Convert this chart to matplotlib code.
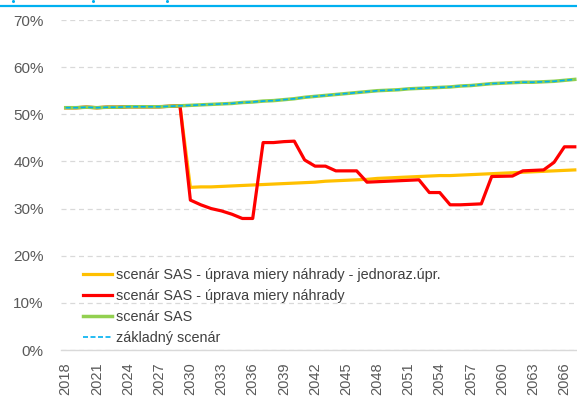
import matplotlib
matplotlib.use("Agg")
import matplotlib.pyplot as plt
from matplotlib.lines import Line2D
from matplotlib.ticker import FuncFormatter, MultipleLocator

years = list(range(2018, 2068))

sas = [51.4, 51.4, 51.5, 51.4, 51.5, 51.5, 51.6, 51.6, 51.6, 51.6, 51.7, 51.8,
       51.9, 52.0, 52.1, 52.2, 52.3, 52.5, 52.6, 52.8, 52.9, 53.1, 53.3, 53.6,
       53.8, 54.0, 54.2, 54.4, 54.6, 54.8, 55.0, 55.1, 55.2, 55.4, 55.5, 55.6,
       55.7, 55.8, 56.0, 56.1, 56.3, 56.5, 56.6, 56.7, 56.8, 56.8, 56.9, 57.0,
       57.2, 57.4]

zakladny = [51.4, 51.4, 51.5, 51.4, 51.5, 51.5, 51.6, 51.6, 51.6, 51.6, 51.7, 51.8,
            51.9, 52.0, 52.1, 52.2, 52.3, 52.5, 52.6, 52.8, 52.9, 53.1, 53.3, 53.6,
            53.8, 54.0, 54.2, 54.4, 54.6, 54.8, 55.0, 55.1, 55.2, 55.4, 55.5, 55.6,
            55.7, 55.8, 56.0, 56.1, 56.3, 56.5, 56.6, 56.7, 56.8, 56.8, 56.9, 57.0,
            57.2, 57.4]

uprava = [51.4, 51.4, 51.5, 51.4, 51.5, 51.5, 51.6, 51.6, 51.6, 51.6, 51.7, 51.8,
          31.8, 30.8, 30.0, 29.5, 28.8, 27.9, 27.9, 44.0, 44.0, 44.2, 44.3, 40.3,
          39.0, 39.0, 38.0, 38.0, 38.0, 35.6, 35.7, 35.8, 35.9, 36.0, 36.1, 33.4,
          33.4, 30.8, 30.8, 30.9, 31.0, 36.8, 36.85, 36.9, 38.0, 38.1, 38.2, 39.8,
          43.1, 43.1]

jednoraz = [51.4, 51.4, 51.5, 51.4, 51.5, 51.5, 51.6, 51.6, 51.6, 51.6, 51.7, 51.8,
            34.5, 34.6, 34.6, 34.7, 34.8, 34.9, 35.0, 35.1, 35.2, 35.3, 35.4, 35.5,
            35.6, 35.8, 35.9, 36.0, 36.1, 36.2, 36.4, 36.5, 36.6, 36.7, 36.8, 36.9,
            37.0, 37.0, 37.1, 37.2, 37.3, 37.4, 37.5, 37.6, 37.7, 37.8, 37.9, 38.0,
            38.1, 38.2]

labels = ["scenár SAS - úprava miery náhrady - jednoraz.úpr.",
          "scenár SAS - úprava miery náhrady",
          "scenár SAS",
          "základný scenár"]

plt.rcParams['font.family'] = ['Liberation Sans', 'DejaVu Sans']
txt = '#595959'

fig = plt.figure(figsize=(5.77, 4.0), dpi=100)
ax = fig.add_axes([60.5 / 577, 50 / 400, 519.5 / 577, 330 / 400])

ax.plot(years, jednoraz, color='#FFC000', lw=2.3, label=labels[0], zorder=3)
ax.plot(years, uprava, color='#FF0000', lw=2.3, label=labels[1], zorder=4)
ax.plot(years, sas, color='#92D050', lw=2.5, label=labels[2], zorder=5)
ax.plot(years, zakladny, color='#00B0F0', lw=1.2, ls=(0, (3, 1.5)), label=labels[3], zorder=6)

ax.set_xlim(2017.5, 2067.5)
ax.set_ylim(0, 70)
ax.yaxis.set_major_locator(MultipleLocator(10))
ax.yaxis.set_major_formatter(FuncFormatter(lambda v, p: f"{int(round(v))}%"))
ax.set_xticks(years[::3])
ax.set_xticklabels([str(y) for y in years[::3]], rotation=90)

ax.grid(axis='y', color='#D9D9D9', ls=(0, (4, 3)), lw=0.9)
ax.set_axisbelow(True)
for s in ['top', 'right', 'left']:
    ax.spines[s].set_visible(False)
ax.spines['bottom'].set_color('#D9D9D9')
ax.spines['bottom'].set_linewidth(1.0)
ax.tick_params(axis='both', length=0, colors=txt, labelsize=11)
ax.tick_params(axis='y', pad=12)
ax.tick_params(axis='x', pad=9, labelsize=10.5)

leg = ax.legend(loc='lower left', bbox_to_anchor=(0.027, -0.012), frameon=False,
                fontsize=10.4, handlelength=2.0, handletextpad=0.3,
                labelspacing=0.5, borderaxespad=0.2)
for t in leg.get_texts():
    t.set_color('#404040')

fig.add_artist(Line2D([0, 1], [1 - 6.2 / 400, 1 - 6.2 / 400], color='#00B0F0', lw=1.6,
                      transform=fig.transFigure))
for xp in [13, 93, 167]:
    fig.add_artist(Line2D([xp / 577], [1 - 1.0 / 400], marker='o', ms=2.2, color='#00B0F0',
                          mec='none', transform=fig.transFigure))

fig.savefig('out.png', dpi=100)
